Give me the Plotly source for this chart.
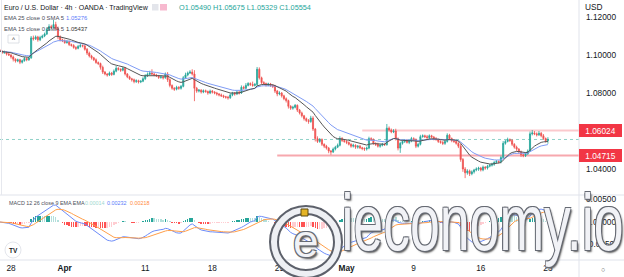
import pandas as pd
import plotly.graph_objects as go

# ---------------- data (EUR/USD 4h, OANDA) ----------------
# bar index: 0 = first bar of Mon 28 Mar, 30 bars per trading week
bar_index = list(range(-5, 241))
first_open = 1.1025
close = [
    1.1020, 1.1012, 1.1015, 1.1005, 1.1000, 1.0990, 1.0978, 1.0968, 1.0975, 1.0962,
    1.0970, 1.0982, 1.0975, 1.0985, 1.1090, 1.1085, 1.1095, 1.1080, 1.1092, 1.1100,
    1.1110, 1.1135, 1.1150, 1.1145, 1.1160, 1.1140, 1.1095, 1.1080, 1.1075, 1.1065,
    1.1070, 1.1055, 1.1050, 1.1040, 1.1035, 1.1045, 1.1050, 1.1048, 1.1030, 1.1010,
    1.0995, 1.0985, 1.0975, 1.0960, 1.0955, 1.0935, 1.0910, 1.0900, 1.0895, 1.0905,
    1.0898, 1.0915, 1.0930, 1.0925, 1.0920, 1.0930, 1.0900, 1.0885, 1.0875, 1.0870,
    1.0860, 1.0865, 1.0858, 1.0862, 1.0875, 1.0890, 1.0898, 1.0905, 1.0900, 1.0895,
    1.0890, 1.0882, 1.0885, 1.0880, 1.0900, 1.0870, 1.0840, 1.0825, 1.0820, 1.0830,
    1.0825, 1.0835, 1.0880, 1.0895, 1.0905, 1.0910, 1.0900, 1.0825, 1.0810, 1.0815,
    1.0805, 1.0812, 1.0808, 1.0800, 1.0810, 1.0805, 1.0800, 1.0795, 1.0790, 1.0785,
    1.0780, 1.0778, 1.0775, 1.0790, 1.0800, 1.0795, 1.0805, 1.0800, 1.0830, 1.0825,
    1.0840, 1.0850, 1.0845, 1.0840, 1.0845, 1.0925, 1.0880, 1.0855, 1.0850, 1.0842,
    1.0848, 1.0840, 1.0835, 1.0810, 1.0795, 1.0800, 1.0785, 1.0770, 1.0760, 1.0730,
    1.0720, 1.0725, 1.0735, 1.0710, 1.0695, 1.0680, 1.0665, 1.0655, 1.0650, 1.0668,
    1.0610, 1.0560, 1.0545, 1.0555, 1.0530, 1.0520, 1.0510, 1.0495, 1.0490, 1.0505,
    1.0515, 1.0525, 1.0560, 1.0550, 1.0545, 1.0540, 1.0530, 1.0520, 1.0525, 1.0515,
    1.0520, 1.0512, 1.0508, 1.0505, 1.0510, 1.0560, 1.0555, 1.0535, 1.0530, 1.0520,
    1.0525, 1.0530, 1.0528, 1.0615, 1.0605, 1.0595, 1.0600, 1.0560, 1.0510, 1.0535,
    1.0545, 1.0550, 1.0540, 1.0548, 1.0560, 1.0555, 1.0520, 1.0530, 1.0570, 1.0575,
    1.0570, 1.0565, 1.0575, 1.0568, 1.0560, 1.0555, 1.0545, 1.0540, 1.0535, 1.0545,
    1.0578, 1.0560, 1.0550, 1.0545, 1.0535, 1.0520, 1.0450, 1.0400, 1.0380, 1.0390,
    1.0375, 1.0385, 1.0395, 1.0400, 1.0405, 1.0395, 1.0410, 1.0405, 1.0415, 1.0420,
    1.0425, 1.0435, 1.0440, 1.0438, 1.0460, 1.0535, 1.0545, 1.0555, 1.0550, 1.0530,
    1.0515, 1.0505, 1.0490, 1.0475, 1.0470, 1.0480, 1.0495, 1.0585, 1.0590, 1.0585,
    1.0580, 1.0588, 1.0575, 1.0560, 1.0549, 1.05554,
]
upper_wick_pips = [
    6, 5, 8, 4, 6, 5, 7, 4, 6, 5,
    6, 8, 5, 7, 10, 12, 8, 6, 9, 7,
    8, 10, 12, 9, 25, 15, 10, 8, 6, 7,
    9, 6, 5, 7, 6, 8, 10, 5, 6, 7,
    8, 6, 5, 7, 6, 5, 9, 6, 5, 8,
    6, 9, 12, 6, 5, 8, 7, 5, 6, 5,
    6, 7, 5, 6, 8, 9, 10, 12, 20, 8,
    6, 5, 7, 6, 8, 10, 7, 5, 6, 8,
    6, 7, 9, 12, 8, 10, 15, 20, 7, 6,
    5, 7, 6, 5, 8, 6, 5, 6, 5, 7,
    6, 5, 7, 9, 6, 5, 7, 6, 10, 8,
    12, 7, 6, 15, 8, 12, 10, 6, 7, 5,
    6, 5, 7, 8, 6, 9, 5, 6, 7, 5,
    6, 8, 7, 5, 6, 7, 5, 6, 8, 12,
    10, 6, 12, 8, 6, 5, 7, 6, 5, 8,
    7, 9, 12, 8, 6, 7, 5, 6, 8, 5,
    6, 7, 5, 6, 8, 10, 7, 6, 5, 8,
    6, 7, 5, 22, 9, 8, 10, 12, 6, 8,
    7, 6, 8, 5, 9, 7, 6, 8, 10, 7,
    6, 9, 7, 5, 6, 8, 5, 6, 7, 6,
    10, 7, 6, 5, 8, 6, 12, 8, 10, 9,
    7, 8, 6, 9, 7, 6, 8, 5, 7, 6,
    8, 6, 7, 5, 10, 12, 8, 10, 6, 7,
    6, 8, 5, 7, 6, 9, 8, 12, 15, 10,
    8, 12, 7, 9, 6, 12,
]
lower_wick_pips = [
    5, 7, 6, 8, 5, 9, 12, 8, 6, 10,
    7, 5, 8, 6, 5, 9, 6, 10, 7, 5,
    6, 5, 8, 7, 6, 9, 12, 8, 7, 6,
    5, 8, 6, 7, 9, 5, 6, 8, 7, 10,
    8, 9, 7, 6, 8, 12, 10, 7, 9, 6,
    8, 5, 6, 7, 9, 6, 8, 7, 6, 10,
    9, 7, 8, 6, 5, 7, 6, 5, 8, 7,
    6, 8, 7, 9, 5, 12, 10, 8, 9, 6,
    8, 7, 5, 6, 7, 5, 8, 68, 9, 7,
    8, 6, 7, 9, 6, 8, 7, 9, 8, 6,
    7, 8, 10, 6, 7, 9, 6, 8, 5, 7,
    6, 5, 8, 7, 6, 8, 9, 10, 7, 8,
    6, 8, 9, 10, 12, 7, 9, 8, 10, 12,
    9, 8, 6, 10, 8, 9, 10, 8, 12, 7,
    10, 15, 8, 7, 9, 10, 8, 12, 15, 6,
    7, 5, 6, 8, 7, 9, 6, 8, 7, 9,
    8, 7, 9, 10, 8, 6, 7, 8, 9, 7,
    8, 6, 7, 5, 8, 7, 6, 10, 12, 25,
    7, 8, 6, 9, 7, 8, 10, 7, 6, 5,
    7, 6, 8, 7, 9, 6, 8, 7, 9, 8,
    6, 7, 9, 8, 7, 10, 12, 15, 28, 10,
    12, 8, 9, 7, 10, 8, 7, 9, 8, 6,
    7, 8, 6, 9, 8, 6, 7, 5, 8, 9,
    8, 10, 9, 12, 8, 7, 6, 5, 8, 7,
    9, 6, 8, 7, 10, 16,
]
tick_bars = [0, 24, 60, 90, 120, 150, 180, 210, 240]
tick_text = ["28", "<b>Apr</b>", "11", "18", "25", "<b>May</b>", "9", "16", "23"]
price_ticks = [1.04, 1.08, 1.10, 1.12]
macd_ticks = [-0.005, 0.0, 0.005]
level_high, level_high_start = 1.06024, 157
level_low, level_low_start = 1.04715, 119
last_close = 1.05554

# ---------------- derived ----------------
open_ = [first_open] + close[:-1]
high = [max(o, c) + u * 1e-4 for o, c, u in zip(open_, close, upper_wick_pips)]
low = [min(o, c) - d * 1e-4 for o, c, d in zip(open_, close, lower_wick_pips)]
s = pd.Series(close)
ema15 = s.ewm(span=15, adjust=False).mean()
ema25 = s.ewm(span=25, adjust=False).mean()
macd = s.ewm(span=12, adjust=False).mean() - s.ewm(span=26, adjust=False).mean()
signal = macd.ewm(span=9, adjust=False).mean()
hist = macd - signal
hcol = []
prev = 0.0
for h in hist:
    if h >= 0:
        hcol.append("#26a69a" if h >= prev else "#b2dfdb")
    else:
        hcol.append("#ff5252" if h <= prev else "#ffcdd2")
    prev = h

W, H = 624, 277
ML, MR, MT, MB = 0, 45, 0, 17
PW, PH = W - ML - MR, H - MT - MB
def px(x):
    return (x - ML) / PW
def py(y):
    return (PH - (y - MT)) / PH

XR = [-4.92, 253.9]
FONT = "Liberation Sans, Arial, sans-serif"
TXT = "#131722"

fig = go.Figure()
fig.add_trace(go.Candlestick(
    x=bar_index, open=open_, high=high, low=low, close=close,
    increasing=dict(line=dict(color="#26a69a", width=0.8), fillcolor="#26a69a"),
    decreasing=dict(line=dict(color="#ef5350", width=0.8), fillcolor="#ef5350"),
    whiskerwidth=0, showlegend=False, hoverinfo="skip", xaxis="x", yaxis="y"))
fig.add_trace(go.Scatter(x=bar_index, y=ema25, mode="lines",
                         line=dict(color="#7f9cf5", width=1), showlegend=False,
                         hoverinfo="skip", xaxis="x", yaxis="y"))
fig.add_trace(go.Scatter(x=bar_index, y=ema15, mode="lines",
                         line=dict(color="#555555", width=1), showlegend=False,
                         hoverinfo="skip", xaxis="x", yaxis="y"))
fig.add_trace(go.Bar(x=bar_index, y=hist, marker=dict(color=hcol, line=dict(width=0)),
                     width=0.65, showlegend=False, hoverinfo="skip", xaxis="x2", yaxis="y2"))
fig.add_trace(go.Scatter(x=bar_index, y=macd, mode="lines",
                         line=dict(color="#6d8cf9", width=1), showlegend=False,
                         hoverinfo="skip", xaxis="x2", yaxis="y2"))
fig.add_trace(go.Scatter(x=bar_index, y=signal, mode="lines",
                         line=dict(color="#ff9f4a", width=1), showlegend=False,
                         hoverinfo="skip", xaxis="x2", yaxis="y2"))

axfont = dict(family=FONT, size=8.3, color=TXT)
fig.update_layout(
    width=W, height=H, margin=dict(l=ML, r=MR, t=MT, b=MB, pad=0),
    paper_bgcolor="white", plot_bgcolor="white", hovermode=False, showlegend=False,
    bargap=0,
    xaxis=dict(domain=[0, 1], range=XR, anchor="y", showticklabels=False, showgrid=False,
               zeroline=False, showline=False, rangeslider=dict(visible=False), fixedrange=True),
    yaxis=dict(domain=[0.25, 1], range=[1.026316, 1.128947], side="right", anchor="x",
               tickvals=price_ticks, ticktext=[f"{v:.5f}" for v in price_ticks],
               tickfont=axfont, showgrid=False, zeroline=False, showline=False, ticks="",
               ticklabelstandoff=6),
    xaxis2=dict(domain=[0, 1], range=XR, anchor="y2", matches="x", tickvals=tick_bars,
                ticktext=tick_text, tickfont=axfont, showgrid=False, zeroline=False,
                showline=False, ticks="", ticklabelstandoff=2),
    yaxis2=dict(domain=[0, 0.25], range=[-0.008444, 0.006], side="right", anchor="x2",
                tickvals=macd_ticks, ticktext=[f"{v:.5f}" for v in macd_ticks],
                tickfont=axfont, showgrid=False, zeroline=False, showline=False, ticks="",
                ticklabelstandoff=6),
)

shapes = []
# frame lines
shapes.append(dict(type="line", xref="paper", yref="paper", x0=0, x1=px(W), y0=py(195), y1=py(195),
                   line=dict(color="#e0e3eb", width=1)))
shapes.append(dict(type="line", xref="paper", yref="paper", x0=0, x1=px(W), y0=py(260), y1=py(260),
                   line=dict(color="#e0e3eb", width=1)))
shapes.append(dict(type="line", xref="paper", yref="paper", x0=1, x1=1, y0=py(H), y1=py(0),
                   line=dict(color="#e0e3eb", width=1)))
shapes.append(dict(type="line", xref="paper", yref="paper", x0=px(1.5), x1=px(1.5), y0=py(195), y1=py(0),
                   line=dict(color="#e6e8ee", width=1)))
# levels
shapes.append(dict(type="line", xref="x", yref="y", x0=level_high_start, x1=XR[1], y0=level_high,
                   y1=level_high, line=dict(color="#fbc9cd", width=2), layer="below"))
shapes.append(dict(type="line", xref="x", yref="y", x0=level_low_start, x1=XR[1], y0=level_low,
                   y1=level_low, line=dict(color="#f7a8ae", width=2), layer="below"))
shapes.append(dict(type="line", xref="x", yref="y", x0=XR[0], x1=XR[1], y0=last_close,
                   y1=last_close, line=dict(color="#8fd1c8", width=1, dash="dot"), layer="below"))
# header mask on price axis
shapes.append(dict(type="rect", xref="paper", yref="paper", x0=1.002, x1=px(W), y0=py(12), y1=py(0),
                   fillcolor="white", line=dict(width=0)))
# legend icons
shapes.append(dict(type="rect", xref="paper", yref="paper", x0=px(152), x1=px(158.5), y0=py(10.5), y1=py(4),
                   fillcolor="#e3e5eb", line=dict(width=0)))
shapes.append(dict(type="rect", xref="paper", yref="paper", x0=px(160), x1=px(167), y0=py(10.5), y1=py(4),
                   fillcolor="#f7b9cf", line=dict(width=0)))
# collapse button
shapes.append(dict(type="rect", xref="paper", yref="paper", x0=px(8), x1=px(19), y0=py(43), y1=py(35),
                   fillcolor="white", line=dict(color="#d6d9e0", width=0.8)))
# TradingView badge
shapes.append(dict(type="circle", xref="paper", yref="paper", x0=px(5), x1=px(21), y0=py(258), y1=py(242),
                   fillcolor="white", line=dict(color="#e4e6ec", width=1)))
# watermark logo ring
shapes.append(dict(type="circle", xref="paper", yref="paper", x0=px(274), x1=px(338), y0=py(274), y1=py(210),
                   line=dict(color="#5d616b", width=10)))
shapes.append(dict(type="circle", xref="paper", yref="paper", x0=px(274), x1=px(338), y0=py(274), y1=py(210),
                   line=dict(color="#eef0f4", width=6)))
shapes.append(dict(type="rect", xref="paper", yref="paper", x0=px(301), x1=px(308), y0=py(216), y1=py(209),
                   fillcolor="#e5b425", line=dict(color="#5d4a10", width=1)))
fig.update_layout(shapes=shapes)

ann = []
def text(x, y, t, size, color=TXT, xanchor="left", **kw):
    ann.append(dict(xref="paper", yref="paper", x=px(x), y=py(y), text=t, showarrow=False,
                    xanchor=xanchor, yanchor="middle", font=dict(family=FONT, size=size, color=color),
                    **kw))

text(2, 7.5, "Euro / U.S. Dollar · 4h · OANDA · TradingView", 7.0)
text(177, 7.5, "O1.05490 H1.05675 L1.05329 C1.05554", 7.3, "#26a69a")
text(2, 18.5, "EMA 25 close 0 SMA 5", 5.9, "#4a4e59")
text(64, 18.5, "1.05276", 5.9, "#5b7cfa")
text(2, 29, "EMA 15 close 0 SMA 5", 5.9, "#4a4e59")
text(64, 29, "1.05437", 5.9, "#333333")
text(13.5, 39.5, "^", 6.5, "#333333", xanchor="center")
text(7, 202.5, "MACD 12 26 close 9 EMA EMA", 5.4, "#4a4e59")
text(83, 202.5, "0.00014", 5.4, "#9fd8d0")
text(105, 202.5, "0.00232", 5.4, "#5b7cfa")
text(128, 202.5, "0.00218", 5.4, "#ff8a3d")
text(13, 250, "<b>TV</b>", 6.5, "#131722", xanchor="center")
text(583, 7, "USD", 8.3)
text(603, 269, "○", 7, "#555555", xanchor="center")
# price labels on the axis
for lv in (level_high, level_low):
    ann.append(dict(xref="paper", yref="y", x=1.0, y=lv, text=f"{lv:.5f}", showarrow=False,
                    xanchor="left", yanchor="middle", bgcolor="#f23645", width=41, height=11,
                    borderpad=1, borderwidth=0, align="center",
                    font=dict(family=FONT, size=8.3, color="white")))
# watermark (horizontally condensed in the page after drawing)
OUTLINE = "-1px -1px 0 #666a73, 1px -1px 0 #666a73, -1px 1px 0 #666a73, 1px 1px 0 #666a73, 2px 2px 2px #555"
ann.append(dict(xref="paper", yref="paper", x=px(482), y=py(222), text="ieconomy.io", showarrow=False,
                xanchor="center", yanchor="middle",
                font=dict(family="Liberation Sans", size=80, color="#f1f2f6", shadow=OUTLINE)))
ann.append(dict(xref="paper", yref="paper", x=px(306), y=py(241), text="e", showarrow=False,
                xanchor="center", yanchor="middle",
                font=dict(family="Liberation Sans", size=46, color="#f1f2f6", shadow=OUTLINE)))
fig.update_layout(annotations=ann)

post = """
var gd = document.getElementById('{plot_id}');
function squeezeWatermark() {
  var ts = gd.querySelectorAll('text.annotation-text');
  for (var i = 0; i < ts.length; i++) {
    var t = ts[i];
    if (t.textContent === 'ieconomy.io') {
      t.removeAttribute('transform');
      var b = t.getBBox();
      var sx = 0.67;
      var cx = b.x + b.width / 2;
      t.setAttribute('transform', 'translate(' + (cx * (1 - sx)) + ',0) scale(' + sx + ',1)');
    }
  }
}
squeezeWatermark();
"""
fig.write_html("out.html", config=dict(displayModeBar=False, staticPlot=True), post_script=post)
